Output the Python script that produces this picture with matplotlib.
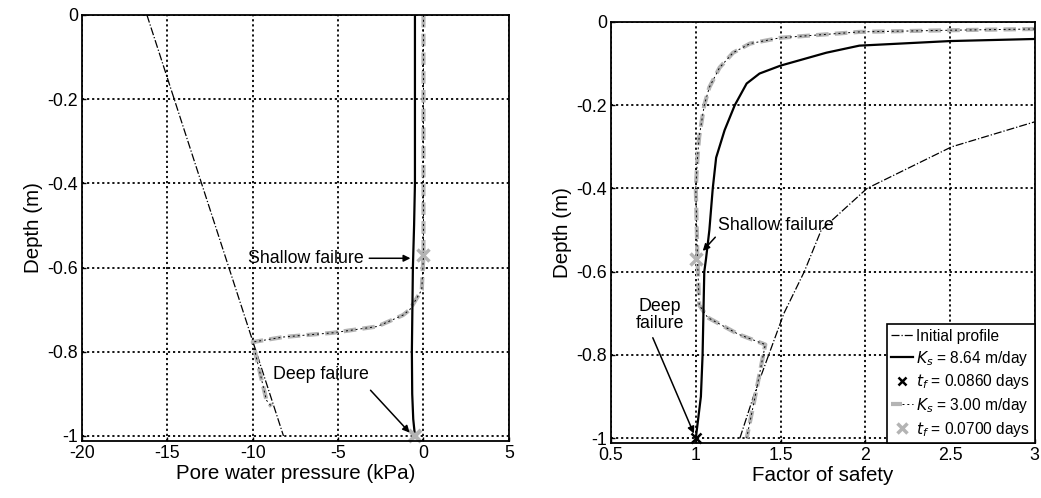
import matplotlib
matplotlib.use("Agg")
import matplotlib.pyplot as plt
from matplotlib.lines import Line2D
from matplotlib.legend_handler import HandlerTuple

plt.rcParams['font.family'] = ['Liberation Sans', 'DejaVu Sans']
plt.rcParams['axes.unicode_minus'] = False

# === Data ===
depth_ticks = [0, -0.2, -0.4, -0.6, -0.8, -1]
depth_labels = ["0", "-0.2", "-0.4", "-0.6", "-0.8", "-1"]

# Left panel: pore water pressure (kPa) vs depth (m)
pwp_ticks = [-20, -15, -10, -5, 0, 5]
pwp_labels = ["-20", "-15", "-10", "-5", "0", "5"]
pwp_init_x = [-16.2, -8.2]
pwp_init_d = [0.0, -1.0]
pwp_k864_x = [-0.5, -0.5, -0.55, -0.62, -0.68, -0.66, -0.6, -0.5]
pwp_k864_d = [0.0, -0.4, -0.5, -0.6, -0.8, -0.9, -0.96, -1.0]
pwp_k300_x = [0.0, 0.0, -0.1, -0.8, -1.2, -2.7, -5.3, -8.2, -10.0, -9.2, -8.9]
pwp_k300_d = [0.0, -0.57, -0.653, -0.70, -0.713, -0.74, -0.755, -0.765, -0.777, -0.915, -0.93]
pwp_tf864 = (-0.5, -1.0)
pwp_tf300 = (0.0, -0.57)

# Right panel: factor of safety vs depth (m)
fs_ticks = [0.5, 1, 1.5, 2, 2.5, 3]
fs_labels = ["0.5", "1", "1.5", "2", "2.5", "3"]
fs_init_x = [1.26, 1.34, 1.43, 1.52, 1.64, 1.74, 2.01, 2.51, 3.0]
fs_init_d = [-1.0, -0.9, -0.8, -0.7, -0.6, -0.5, -0.4, -0.3, -0.24]
fs_k864_x = [3.0, 2.5, 1.965, 1.77, 1.50, 1.376, 1.30, 1.23, 1.17, 1.12, 1.10, 1.08,
             1.06, 1.05, 1.045, 1.04, 1.03, 1.0]
fs_k864_d = [-0.041, -0.046, -0.057, -0.074, -0.105, -0.124, -0.148, -0.20, -0.26,
             -0.326, -0.4, -0.5, -0.57, -0.6, -0.7, -0.8, -0.9, -1.0]
fs_k300_x = [3.0, 2.5, 1.965, 1.50, 1.32, 1.22, 1.14, 1.08, 1.05, 1.02, 1.01, 1.0,
             1.01, 1.02, 1.07, 1.25, 1.41, 1.35, 1.30]
fs_k300_d = [-0.017, -0.02, -0.024, -0.038, -0.052, -0.074, -0.11, -0.157, -0.20,
             -0.276, -0.325, -0.4, -0.57, -0.68, -0.71, -0.75, -0.775, -0.9, -1.0]
fs_tf864 = (1.0, -1.0)
fs_tf300 = (1.0, -0.57)

grey = '#b4b4b4'

fig = plt.figure(figsize=(10.41, 4.98), dpi=100)
ax1 = fig.add_axes([0.0788, 0.1145, 0.410, 0.8555])
ax2 = fig.add_axes([0.587, 0.110, 0.407, 0.846])


def style_axes(ax, xticks, xlabels, xlim, xlabel):
    ax.set_xlim(*xlim)
    ax.set_ylim(-1.012, 0)
    ax.set_xticks(xticks)
    ax.set_xticklabels(xlabels)
    ax.set_yticks(depth_ticks)
    ax.set_yticklabels(depth_labels)
    ax.grid(True, color='black', linestyle=(0, (1.2, 1.6)), linewidth=1.3)
    ax.tick_params(direction='in', labelsize=12.8, length=3, width=1, pad=3)
    for s in ax.spines.values():
        s.set_linewidth(1.3)
    ax.set_xlabel(xlabel, fontsize=14.8, labelpad=1)
    ax.set_ylabel("Depth (m)", fontsize=14.8, labelpad=3)


# --- Left panel ---
ax1.plot(pwp_init_x, pwp_init_d, color='black', lw=0.9, linestyle='-.')
ax1.plot(pwp_k300_x, pwp_k300_d, color=grey, lw=3, linestyle=(0, (3, 1.5)))
ax1.plot(pwp_k300_x, pwp_k300_d, color='black', lw=0.7, linestyle=(0, (2, 3)))
ax1.plot(pwp_k864_x, pwp_k864_d, color='black', lw=1.6)
ax1.plot(*pwp_tf864, marker='x', color=grey, ms=9, mew=3, clip_on=False)
ax1.plot(*pwp_tf300, marker='x', color=grey, ms=8, mew=2.5)
style_axes(ax1, pwp_ticks, pwp_labels, (-20, 5), "Pore water pressure (kPa)")

ax1.annotate("Shallow failure", xy=(-0.6, -0.578), xytext=(-3.5, -0.578),
             fontsize=12.8, ha='right', va='center',
             arrowprops=dict(arrowstyle='-|>', color='black', lw=1.1, mutation_scale=10))
ax1.annotate("Deep failure", xy=(-0.7, -0.997), xytext=(-6.0, -0.855),
             fontsize=12.8, ha='center', va='center',
             arrowprops=dict(arrowstyle='-|>', color='black', lw=1.1, mutation_scale=10,
                             shrinkA=4, relpos=(0.95, 0.0)))

# --- Right panel ---
ax2.plot(fs_init_x, fs_init_d, color='black', lw=0.9, linestyle='-.')
ax2.plot(fs_k300_x, fs_k300_d, color=grey, lw=3, linestyle=(0, (3, 1.5)))
ax2.plot(fs_k300_x, fs_k300_d, color='black', lw=0.7, linestyle=(0, (2, 3)))
ax2.plot(fs_k864_x, fs_k864_d, color='black', lw=1.6)
ax2.plot(*fs_tf864, marker='x', color='black', ms=7, mew=1.8, clip_on=False)
ax2.plot(*fs_tf300, marker='x', color=grey, ms=8, mew=2.5)
style_axes(ax2, fs_ticks, fs_labels, (0.5, 3), "Factor of safety")

ax2.annotate("Shallow failure", xy=(1.03, -0.555), xytext=(1.13, -0.49),
             fontsize=12.8, ha='left', va='center',
             arrowprops=dict(arrowstyle='-|>', color='black', lw=1.1, mutation_scale=10,
                             shrinkA=0, relpos=(0.0, 0.0)))
ax2.annotate("Deep\nfailure", xy=(0.995, -0.995), xytext=(0.79, -0.705),
             fontsize=12.8, ha='center', va='center', linespacing=1.0,
             arrowprops=dict(arrowstyle='-|>', color='black', lw=1.1, mutation_scale=10,
                             shrinkA=2, relpos=(0.3, 0.0)))

h_init = Line2D([], [], color='black', lw=0.9, linestyle='-.')
h_k864 = Line2D([], [], color='black', lw=1.6)
h_tf864 = Line2D([], [], color='black', marker='x', linestyle='none', ms=6, mew=1.8)
h_k300a = Line2D([], [], color=grey, lw=3, linestyle=(0, (3, 1.5)))
h_k300b = Line2D([], [], color='black', lw=0.7, linestyle=(0, (2, 3)))
h_tf300 = Line2D([], [], color=grey, marker='x', linestyle='none', ms=7, mew=2.5)
leg = ax2.legend([h_init, h_k864, h_tf864, (h_k300a, h_k300b), h_tf300],
                 ["Initial profile", "$K_s$ = 8.64 m/day", "$t_f$ = 0.0860 days",
                  "$K_s$ = 3.00 m/day", "$t_f$ = 0.0700 days"],
                 handler_map={tuple: HandlerTuple(ndivide=None, pad=0)},
                 loc='lower right', fontsize=11.2, handlelength=1.4, handletextpad=0.2,
                 borderpad=0.3, labelspacing=0.3, borderaxespad=0.0,
                 fancybox=False, framealpha=1, edgecolor='black')
leg.get_frame().set_linewidth(1.2)

fig.savefig("out.png", dpi=100)
